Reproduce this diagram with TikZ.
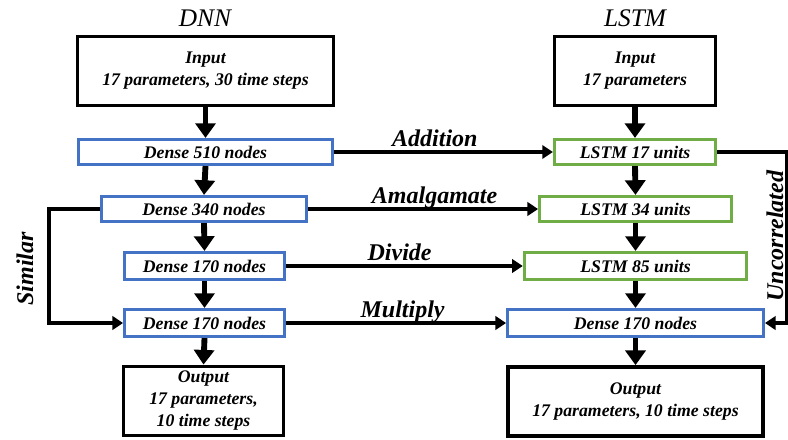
\documentclass[tikz,border=0pt]{standalone}
\usepackage{fontspec}
\setmainfont{Liberation Serif}
\usetikzlibrary{positioning,arrows.meta}
\definecolor{denseblue}{RGB}{68,114,196}
\definecolor{lstmgreen}{RGB}{112,173,71}
\newcommand{\boxfont}{\fontsize{13.3}{16.5}\selectfont\bfseries\itshape}
\newcommand{\lblfont}{\fontsize{18}{20}\selectfont\bfseries\itshape}
\newcommand{\ttlfont}{\fontsize{19}{22}\selectfont\itshape}

\begin{document}
\begin{tikzpicture}[x=0.75pt,y=-0.75pt,
  blk/.style={draw=black,line width=2.6pt,align=center,font=\boxfont,inner sep=2pt},
  dense/.style={draw=denseblue,line width=2.1pt,font=\boxfont,inner sep=0pt},
  lstm/.style={draw=lstmgreen,line width=2.1pt,font=\boxfont,inner sep=0pt},
  down/.style={line width=4.4pt,-{Triangle[width=15pt,length=11pt]}},
  side/.style={line width=2.8pt,-{Triangle[width=10pt,length=8pt]}},
  lbl/.style={font=\lblfont,above,inner sep=3pt,text depth=0pt}]
  \useasboundingbox (0,0) rectangle (788,439);
  % ---- titles ----
  \node[font=\ttlfont] (tdnn) at (205,18) {DNN};
  \node[font=\ttlfont] (tlstm) at (635,18) {LSTM};
  % ---- DNN column ----
  \node[blk,minimum width=192pt,minimum height=52pt] (dinput) at (205.5,71) {Input\\17 parameters, 30 time steps};
  \node[dense,minimum width=191pt,minimum height=19pt] (d510) at (205.5,152) {Dense 510 nodes};
  \node[dense,minimum width=154pt,minimum height=19pt] (d340) at (204,209) {Dense 340 nodes};
  \node[dense,minimum width=120pt,minimum height=20.5pt] (d170a) at (204.5,266) {Dense 170 nodes};
  \node[dense,minimum width=120pt,minimum height=20.5pt] (d170b) at (204.5,323) {Dense 170 nodes};
  \node[blk,minimum width=120pt,minimum height=52pt] (doutput) at (203.5,401) {Output\\17 parameters,\\10 time steps};
  % ---- LSTM column ----
  \node[blk,minimum width=121pt,minimum height=52pt] (linput) at (635,71) {Input\\17 parameters};
  \node[lstm,minimum width=121pt,minimum height=19pt] (l17) at (635,152) {LSTM 17 units};
  \node[lstm,minimum width=144pt,minimum height=19pt] (l34) at (635.5,209) {LSTM 34 units};
  \node[lstm,minimum width=167pt,minimum height=20.5pt] (l85) at (635.5,266) {LSTM 85 units};
  \node[dense,minimum width=192pt,minimum height=20.5pt] (ld170) at (635.5,323) {Dense 170 nodes};
  \node[blk,minimum width=191pt,minimum height=52pt] (loutput) at (635.5,401.5) {Output\\17 parameters, 10 time steps};
  % ---- down arrows ----
  \foreach \a/\b in {dinput/d510,d510/d340,d340/d170a,d170a/d170b,d170b/doutput,
                     linput/l17,l17/l34,l34/l85,l85/ld170,ld170/loutput}
    \draw[down] (\a.south) -- (\b.north);
  % ---- cross links ----
  \draw[side] (d510.east) -- node[lbl,pos=0.46] (ladd) {Addition} (l17.west);
  \draw[side] (d340.east) -- node[lbl,pos=0.55] (lamal) {Amalgamate} (l34.west);
  \draw[side] (d170a.east) -- node[lbl,pos=0.48] (ldiv) {Divide} (l85.west);
  \draw[side] (d170b.east) -- node[lbl,pos=0.53] (lmul) {Multiply} (ld170.west);
  % ---- similar / uncorrelated ----
  \draw[side] (d340.west) -- ++(-51,0) |- (d170b.west);
  \node[font=\lblfont,rotate=90] (lsim) at (25,269) {Similar};
  \coordinate (redge) at (787,152);
  \draw[side] (l17.east) -- (redge) |- (ld170.east);
  \node[font=\lblfont,rotate=90] (lunc) at (775,236) {Uncorrelated};
\end{tikzpicture}
\end{document}
